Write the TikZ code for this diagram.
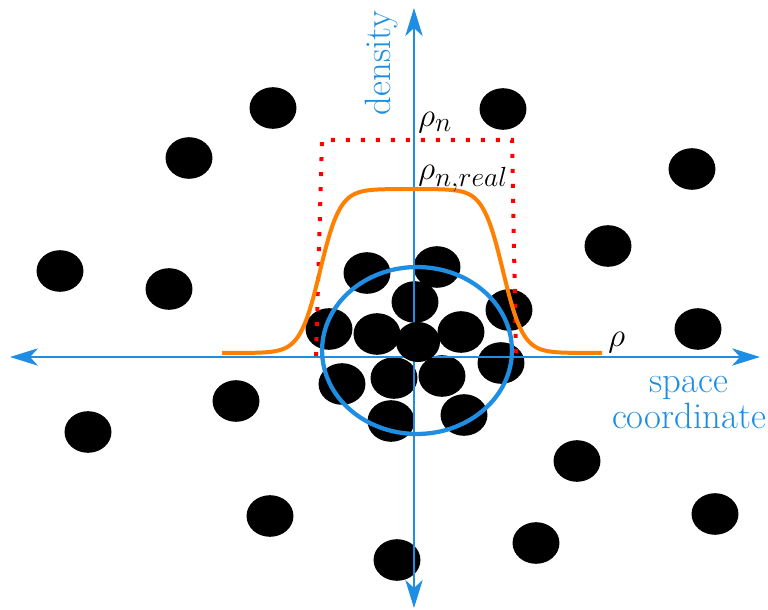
\documentclass[tikz,border=0pt]{standalone}
\usetikzlibrary{arrows.meta}
\definecolor{axisblue}{RGB}{30,142,228}
\definecolor{curveorange}{RGB}{255,127,0}
\definecolor{dotred}{RGB}{255,0,0}
\tikzset{
  axisline/.style={axisblue, line width=1.5pt,
    {Stealth[length=21pt,width=13pt,inset=6pt]}-{Stealth[length=21pt,width=13pt,inset=6pt]}},
  blob/.style={fill=black},
  lbl/.style={font=\fontsize{24.88}{27}\selectfont, inner sep=0pt},
  bluelbl/.style={font=\fontsize{27.5}{27}\selectfont, inner sep=0pt, text=axisblue},
  rhocurve/.style={curveorange, line width=3pt},
  idealbox/.style={dotred, line width=3pt, dash pattern=on 3pt off 8.25pt},
  cluster/.style={axisblue, line width=3.2pt},
}
\begin{document}
\begin{tikzpicture}[x=0.75pt,y=-0.75pt]
\useasboundingbox (0,0) rectangle (768,610);
% particles
\foreach \px/\py in {273/108,503/109,189/158,692/169,608/246,60/271,169/289,698/329,
  236/401,88/432,577/461,270/516,715/514,536/543,397/560,
  367/273,437/267,415/302,329/329,377/334,461/332,509/310,501/363,
  342/384,394/378,442/376,391/421,464/415}
  {\fill[blob] (\px,\py) ellipse [x radius=17.6pt, y radius=15.6pt];}
% axes
\coordinate (xl) at (10,357);
\coordinate (xr) at (760,357);
\coordinate (yt) at (414,8);
\coordinate (yb) at (414,608);
\draw[axisline] (xl) -- (xr);
\draw[axisline] (yb) -- (yt);
% central particle on top of axes
\fill[blob] (418,342) ellipse [x radius=16.5pt, y radius=15pt];
% ideal density (dotted)
\coordinate (b1) at (316,356);
\coordinate (b2) at (322,140);
\coordinate (b3) at (512,140);
\coordinate (b4) at (516,356);
\draw[idealbox] (b1) -- (b2) -- (b3) -- (b4);
% real density
\draw[rhocurve] plot[domain=222:602, samples=200, smooth]
  (\x, {353-164/(1+exp(min((abs(\x-411.5)-91.5)/10,9)))});
% cluster circle
\draw[cluster] (417,350.5) ellipse [x radius=71.2pt, y radius=62.6pt];
% labels
\node[bluelbl, rotate=90] (dens) at (381,63) {density};
\node[lbl, anchor=base west] (rhon) at (418,127) {$\rho_n$};
\node[lbl, anchor=base west] (rhoreal) at (418,179) {$\rho_{n,real}$};
\node[lbl, anchor=base west] (rho) at (608,346) {$\rho$};
\node[bluelbl, align=center, anchor=base] (space) at (689,428) {space\\coordinate};
\end{tikzpicture}
\end{document}
